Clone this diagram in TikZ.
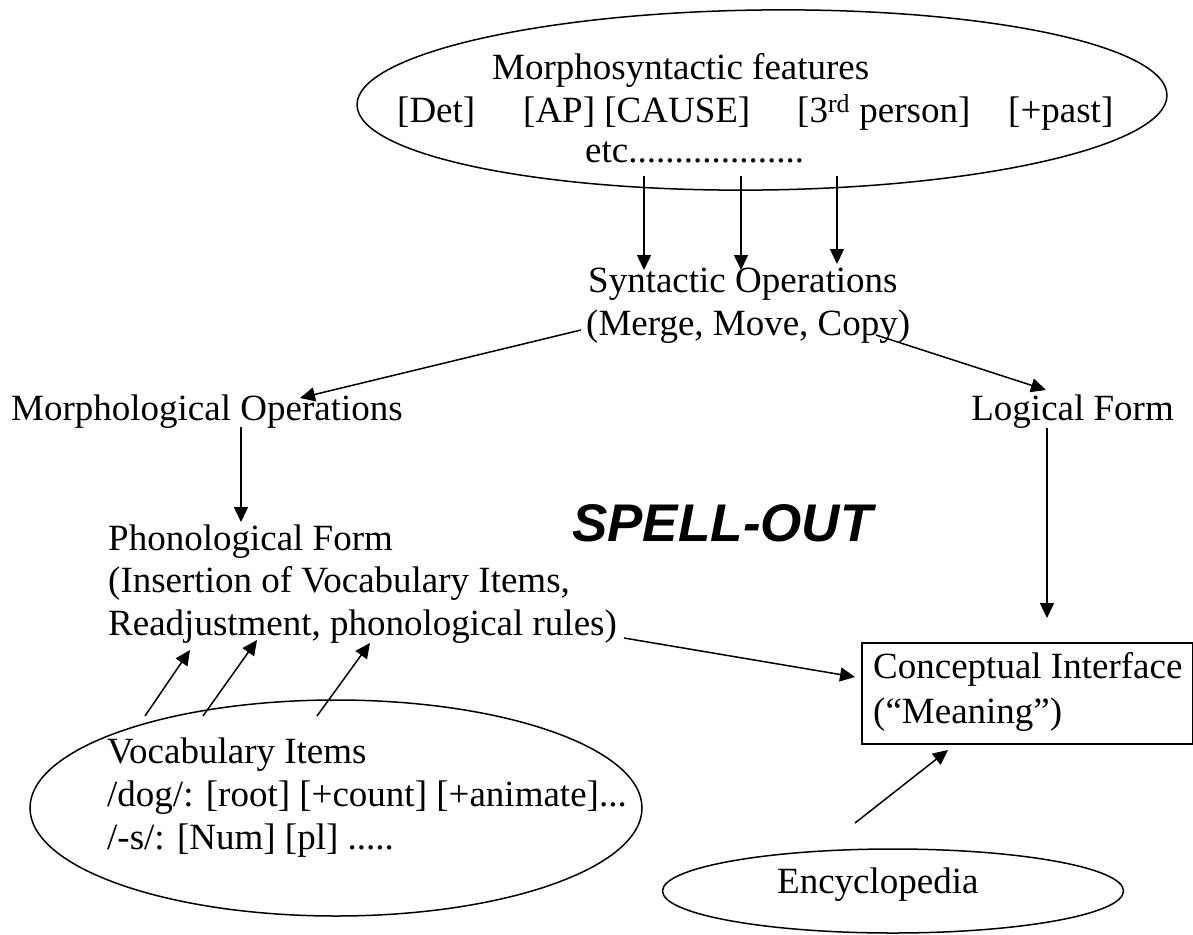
\documentclass[tikz,border=0pt]{standalone}
\usepackage{fontspec}
\setmainfont{Liberation Serif}
\newfontfamily\spellfont{Liberation Sans}
\usetikzlibrary{arrows.meta,shapes.geometric}
\begin{document}
\begin{tikzpicture}[x=1pt,y=-1pt,
  txt/.style={inner sep=0pt, anchor=base west, font=\fontsize{37}{42}\selectfont},
  arr/.style={line width=1.5pt, -{Triangle[length=15pt,width=14pt]}},
  oval/.style={draw, ellipse, line width=1.5pt, inner sep=0pt},
  box/.style={draw, rectangle, line width=1.5pt, inner sep=0pt, anchor=north west}]
\useasboundingbox (0,0) rectangle (1193,934);
% top ellipse
\node[oval, minimum width=810pt, minimum height=180pt, rotate=0.7] (feat) at (762,100) {};
\node[txt] (f1) at (492,79) {Morphosyntactic features};
\node[txt] (f2a) at (397,122) {[Det]};
\node[txt] (f2b) at (523,122) {[AP] [CAUSE]};
\node[txt] (f2c) at (797,122) {[3\textsuperscript{rd} person]};
\node[txt] (f2d) at (1008,122) {[+past]};
\node[txt] (f3) at (585,162) {etc...................};
% arrows down
\coordinate (a1s) at (644,176); \coordinate (a1e) at (644,270);
\coordinate (a2s) at (741,176); \coordinate (a2e) at (741,270);
\coordinate (a3s) at (837,176); \coordinate (a3e) at (837,264);
\draw[arr] (a1s) -- (a1e);
\draw[arr] (a2s) -- (a2e);
\draw[arr] (a3s) -- (a3e);
% syntactic operations
\node[txt] (syn1) at (588,292) {Syntactic Operations};
\node[txt] (syn2) at (586,335) {(Merge, Move, Copy)};
\node[txt] (morph) at (11,420) {Morphological Operations};
\node[txt, anchor=base east] (lf) at (1174,420) {Logical Form};
\coordinate (smS) at (581,330); \coordinate (smE) at (300,398);
\coordinate (slS) at (876,335); \coordinate (slE) at (1046,390);
\draw[arr] (smS) -- (smE);
\draw[arr] (slS) -- (slE);
\coordinate (mpS) at (241,427); \coordinate (mpE) at (241,522);
\coordinate (lcS) at (1047,428); \coordinate (lcE) at (1047,618);
\draw[arr] (mpS) -- (mpE);
\draw[arr] (lcS) -- (lcE);
% phonological form
\node[txt] (ph1) at (108,550) {Phonological Form};
\node[txt] (ph2) at (108,592) {(Insertion of Vocabulary Items,};
\node[txt] (ph3) at (108,635) {Readjustment, phonological rules)};
\node[inner sep=0pt, anchor=base west, font=\fontsize{53}{60}\selectfont\spellfont\bfseries\itshape] (spell) at (572,541) {SPELL-OUT};
% conceptual interface
\node[box, minimum width=331pt, minimum height=101pt] (ci) at (861,642) {};
\node[txt] (ci1) at (873,678) {Conceptual Interface};
\node[txt] (ci2) at (873,723) {(“Meaning”)};
\coordinate (rcS) at (624,638); \coordinate (rcE) at (855,677);
\draw[arr] (rcS) -- (rcE);
% vocabulary items
\node[oval, minimum width=612pt, minimum height=216pt] (voc) at (336,808) {};
\node[txt] (v1) at (107,763) {Vocabulary Items};
\node[txt] (v2) at (107,806) {/dog/: [root] [+count] [+animate]...};
\node[txt] (v3) at (107,849) {/-s/: [Num] [pl] .....};
\coordinate (v1S) at (145,716); \coordinate (v1E) at (190,650);
\coordinate (v2S) at (203,716); \coordinate (v2E) at (257,640);
\coordinate (v3S) at (317,716); \coordinate (v3E) at (370,643);
\draw[arr] (v1S) -- (v1E);
\draw[arr] (v2S) -- (v2E);
\draw[arr] (v3S) -- (v3E);
% encyclopedia
\node[oval, minimum width=461pt, minimum height=84pt] (enc) at (893,891) {};
\node[txt] (e1) at (777,893) {Encyclopedia};
\coordinate (ecS) at (855,823); \coordinate (ecE) at (948,750);
\draw[arr] (ecS) -- (ecE);
\end{tikzpicture}
\end{document}
